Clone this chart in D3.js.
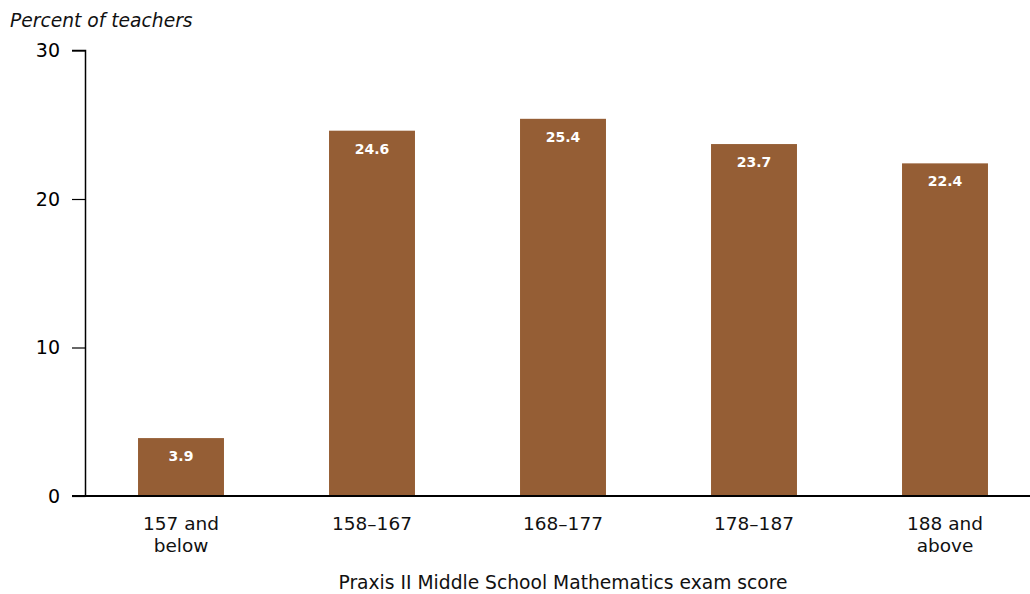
<!DOCTYPE html>
<html>
<head>
<meta charset="utf-8">
<script src="https://cdn.jsdelivr.net/npm/d3@7"></script>
<style>
  html, body { margin: 0; padding: 0; background: #fff; }
  svg { display: block; font-family: "DejaVu Sans", Verdana, sans-serif; }
</style>
</head>
<body>
<svg id="chart" width="1030" height="594"></svg>
<script>
// Score bands and share of teachers in each
const categories = [["157 and", "below"], ["158–167"], ["168–177"], ["178–187"], ["188 and", "above"]];
const values = [3.9, 24.6, 25.4, 23.7, 22.4];
const yTicks = [0, 10, 20, 30];
const yTitle = "Percent of teachers";
const xTitle = "Praxis II Middle School Mathematics exam score";

const svg = d3.select("#chart");
const barColor = "#955e35";
const font = "'DejaVu Sans', Verdana, sans-serif";

const keys = categories.map((c, i) => i);
const x = d3.scaleBand().domain(keys).range([85.5, 1040.5]).padding(0);
const y = d3.scaleLinear().domain([0, 30]).range([496, 50.5]);
const barW = x.bandwidth() * 0.45;

// Bars
svg.append("g").selectAll("rect")
  .data(values)
  .join("rect")
  .attr("x", (d, i) => x(i) + (x.bandwidth() - barW) / 2)
  .attr("y", d => y(d))
  .attr("width", barW)
  .attr("height", d => y(0) - y(d))
  .attr("fill", barColor);

// Value labels inside bar tops
svg.append("g").selectAll("text")
  .data(values)
  .join("text")
  .attr("x", (d, i) => x(i) + x.bandwidth() / 2)
  .attr("y", d => y(d) + 23)
  .attr("text-anchor", "middle")
  .attr("fill", "#fff")
  .attr("font-weight", "bold")
  .attr("font-size", 14)
  .text(d => d.toFixed(1));

// Y axis
const yAxis = d3.axisLeft(y).tickValues(yTicks).tickSize(13.5).tickPadding(12).tickFormat(d3.format("d"));
const gy = svg.append("g").attr("transform", "translate(85.5,0)").call(yAxis);
gy.select(".domain").attr("stroke", "#000").attr("stroke-width", 1.5).attr("d", `M-13.5,${y(30)}H0V${y(0)}`);
gy.selectAll(".tick line").attr("stroke", "#000").attr("stroke-width", 1.2);
gy.selectAll(".tick text").attr("font-size", 19).attr("fill", "#000").attr("font-family", font);

// Baseline
svg.append("line")
  .attr("x1", 72).attr("x2", 1030)
  .attr("y1", y(0)).attr("y2", y(0))
  .attr("stroke", "#000").attr("stroke-width", 2.2);

// Category labels
const cat = svg.append("g").selectAll("text")
  .data(categories)
  .join("text")
  .attr("x", (d, i) => x(i) + x.bandwidth() / 2)
  .attr("y", 530)
  .attr("text-anchor", "middle")
  .attr("font-size", 18.5)
  .attr("fill", "#111");
cat.selectAll("tspan")
  .data(d => d)
  .join("tspan")
  .attr("x", function () { return this.parentNode.getAttribute("x"); })
  .attr("dy", (d, i) => i === 0 ? 0 : 21.5)
  .text(d => d);

// Axis titles
svg.append("text")
  .attr("x", 10).attr("y", 27)
  .attr("font-size", 18.7)
  .attr("font-style", "italic")
  .attr("fill", "#111")
  .text(yTitle);

svg.append("text")
  .attr("x", 563).attr("y", 589)
  .attr("text-anchor", "middle")
  .attr("font-size", 18.7)
  .attr("fill", "#111")
  .text(xTitle);
</script>
</body>
</html>
